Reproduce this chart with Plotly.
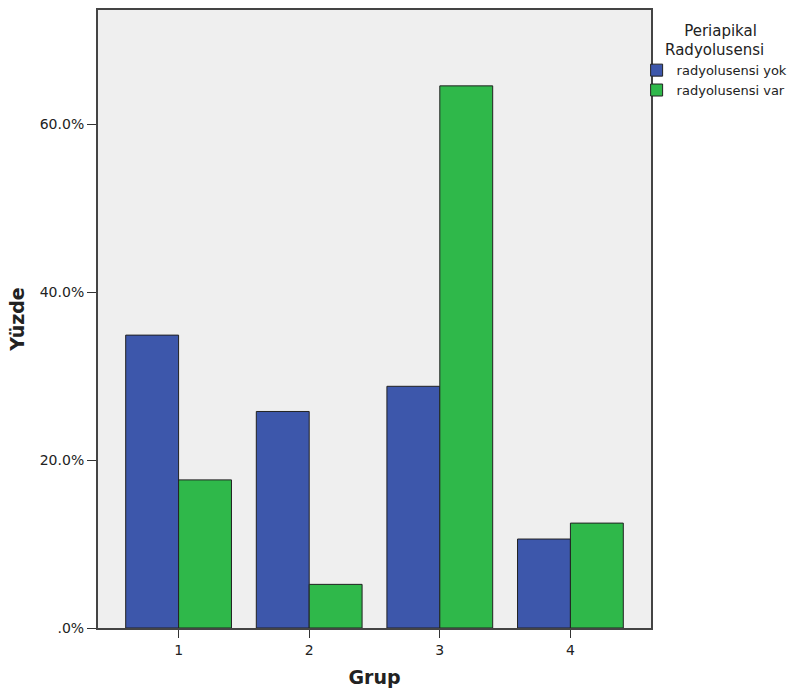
import plotly.graph_objects as go

groups = [1, 2, 3, 4]
group_labels = ["1", "2", "3", "4"]
yok = [34.9, 25.8, 28.8, 10.6]
var = [17.65, 5.2, 64.6, 12.5]
series_names = ["radyolusensi yok", "radyolusensi var"]
tick_vals = [0, 20, 40, 60]
tick_text = [".0%", "20.0%", "40.0%", "60.0%"]

font_family = "DejaVu Sans, Verdana, sans-serif"

fig = go.Figure()
fig.add_trace(go.Bar(x=groups, y=yok, name=series_names[0],
                     marker=dict(color="#3d57ab", line=dict(color="#222222", width=1))))
fig.add_trace(go.Bar(x=groups, y=var, name=series_names[1],
                     marker=dict(color="#2fb84a", line=dict(color="#222222", width=1))))

fig.update_layout(
    width=797, height=695,
    margin=dict(l=98, r=146, t=10, b=67, autoexpand=False),
    paper_bgcolor="white",
    plot_bgcolor="#efefef",
    barmode="group",
    bargap=0.19,
    bargroupgap=0,
    font=dict(family=font_family, size=13, color="#222222"),
    showlegend=True,
    legend=dict(
        x=0.974, xanchor="left", y=0.99, yanchor="top",
        title=dict(text="&nbsp;&nbsp;&nbsp;&nbsp;Periapikal<br>Radyolusensi", side="top center",
                   font=dict(size=15, family=font_family)),
        font=dict(size=13, family=font_family),
        tracegroupgap=0,
        itemwidth=30,
        bgcolor="rgba(0,0,0,0)",
    ),
)
fig.update_xaxes(
    range=[0.383, 4.617],
    tickvals=groups, ticktext=group_labels,
    ticks="outside", ticklen=8, tickcolor="#333333",
    showgrid=False, zeroline=False, automargin=False,
    showline=True, linecolor="#444444", linewidth=2, mirror=True,
    title=dict(text="<b>Grup</b>", font=dict(size=19, family=font_family), standoff=14),
    tickfont=dict(size=14),
)
fig.update_yaxes(
    range=[0, 73.64],
    tickvals=tick_vals, ticktext=tick_text,
    ticks="outside", ticklen=9, tickcolor="#333333",
    showgrid=False, zeroline=False, automargin=False,
    showline=True, linecolor="#444444", linewidth=2, mirror=True,
    title=dict(text="<b>Yüzde</b>", font=dict(size=19, family=font_family), standoff=10),
    tickfont=dict(size=14),
)

fig.write_html("out.html", config={"displayModeBar": False},
               post_script="document.body.style.margin='0px';")
